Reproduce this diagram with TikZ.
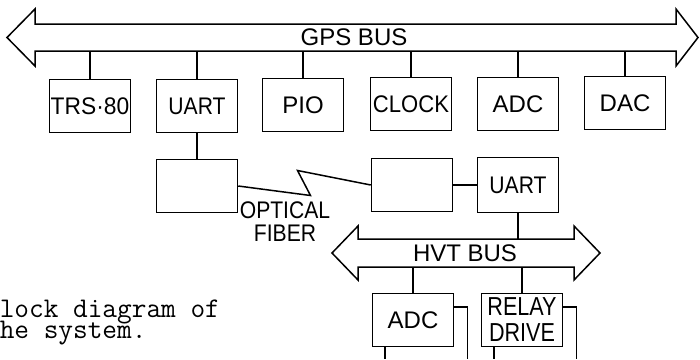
\documentclass[tikz,border=0pt]{standalone}
\usepackage{fontspec}
\setmainfont{Liberation Sans}
\usetikzlibrary{calc}
\newcommand{\squeeze}[2][0.88]{\scalebox{#1}[1]{#2}}

\begin{document}
\begin{tikzpicture}[x=1pt,y=-1pt,line width=1.5pt,
  box/.style={draw,minimum width=81pt,minimum height=53pt,inner sep=0pt,font=\fontsize{24}{26}\selectfont},
  bus/.style={draw,line join=miter},
  buslabel/.style={font=\fontsize{24}{24}\selectfont,inner sep=0pt},
  caption/.style={font=\ttfamily\fontsize{28.5}{24}\selectfont,anchor=base west,inner sep=0pt,text depth=0pt}]
\useasboundingbox (0,0) rectangle (700,359);

% GPS bus
\draw[bus] (7,37.5) -- (35,9) -- (35,24) -- (676,24) -- (676,9) -- (698,37.5)
  -- (676,66) -- (676,51) -- (35,51) -- (35,66) -- cycle;
\coordinate (gpsbase) at (0,51);
\node[buslabel] (gpstext) at (354,37.5) {GPS BUS};

\node[box] (trs) at (90,106) {\squeeze[0.95]{TRS·80}};
\node[box] (uartA) at (197,106) {\squeeze{UART}};
\node[box] (pio) at (303,105) {PIO};
\node[box] (clock) at (411,104) {\squeeze[0.92]{CLOCK}};
\node[box] (adcA) at (518,104) {ADC};
\node[box] (dac) at (625,103) {DAC};
\foreach \n in {trs,uartA,pio,clock,adcA,dac}
  \draw (\n.north) -- (\n.north |- gpsbase);

% optical link
\node[box] (fibL) at (197,186) {};
\node[box] (fibR) at (412,185) {};
\node[box,minimum height=55pt] (uartB) at (518,185) {\squeeze{UART}};
\draw (uartA) -- (fibL);
\draw (fibR) -- (uartB);
\draw (fibL.east) -- ($(fibL.east)!0.5!(fibR.west)+(6,10)$)
  -- ($(fibL.east)!0.5!(fibR.west)+(-7,-15)$) -- (fibR.west);
\node[font=\fontsize{24}{23}\selectfont,align=center,inner sep=0pt] (fiber) at (285,222)
  {\squeeze{OPTICAL}\\\squeeze{FIBER}};

% HVT bus
\draw[bus] (332,253) -- (358,226) -- (358,239) -- (574,239) -- (574,226) -- (600,253)
  -- (574,280) -- (574,267) -- (358,267) -- (358,280) -- cycle;
\coordinate (hvttop) at (0,239);
\coordinate (hvtbase) at (0,267);
\node[buslabel] (hvttext) at (465,253) {HVT BUS};
\draw (uartB.south) -- (uartB.south |- hvttop);

\node[box] (adcB) at (413,320) {ADC};
\node[box,font=\fontsize{26}{26}\selectfont,align=center] (relay) at (522,320)
  {\squeeze[0.83]{RELAY}\\\squeeze[0.83]{DRIVE}};
\draw (adcB.north |- hvtbase) -- (adcB.north);
\draw (relay.north |- hvtbase) -- (relay.north);
\foreach \n in {adcB,relay} {
  \draw ($(\n.north east)+(0,14)$) -| ($(\n.south east)+(13,12)$);
  \draw ($(\n.south west)+(13,0)$) -- ++(0,12);
}

\node[caption] (capA) at (-1,317) {lock diagram of};
\node[caption] (capB) at (-1,338) {he system.};
\end{tikzpicture}
\end{document}
